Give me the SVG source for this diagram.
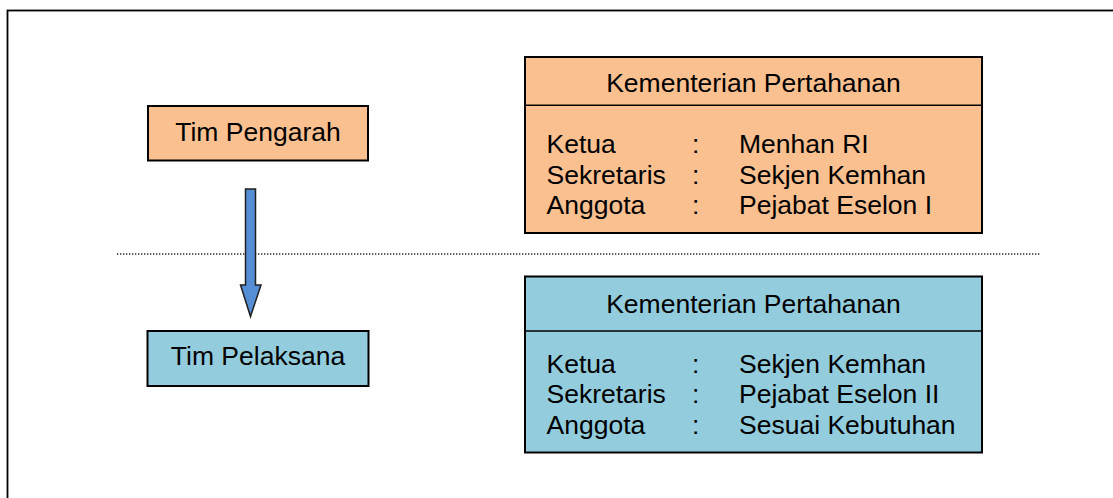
<svg xmlns="http://www.w3.org/2000/svg" width="1113" height="498" viewBox="0 0 1113 498">
<style>
text{font-family:"Liberation Sans",Arial,sans-serif;font-size:26.5px;fill:#000}
.orange{fill:#FAC090;stroke:#000;stroke-width:2}
.blue{fill:#93CDDD;stroke:#000;stroke-width:2}
.div{stroke:#000;stroke-width:1.5}
.mid{text-anchor:middle}
</style>
<rect x="7.5" y="10.5" width="1120" height="500" fill="none" stroke="#000" stroke-width="1.8"/>
<line x1="117" y1="254" x2="1040" y2="254" stroke="#222" stroke-width="1.3" stroke-dasharray="1.3 1.7"/>
<g id="tim-pengarah">
<rect class="orange" x="148" y="106" width="220" height="54.5"/>
<text class="mid" x="258" y="140.5">Tim Pengarah</text>
</g>
<g id="tim-pelaksana">
<rect class="blue" x="147.5" y="331" width="221" height="55"/>
<text class="mid" x="258" y="365">Tim Pelaksana</text>
</g>
<g id="kemhan-pengarah">
<rect class="orange" x="525" y="57" width="457" height="176"/>
<line class="div" x1="525" y1="105.3" x2="982" y2="105.3"/>
<text class="mid" x="753.5" y="91.5">Kementerian Pertahanan</text>
<text x="546.5" y="153.3">Ketua</text><text x="692" y="153.3">:</text><text x="739" y="153.3">Menhan RI</text>
<text x="546.5" y="183.5">Sekretaris</text><text x="692" y="183.5">:</text><text x="739" y="183.5">Sekjen Kemhan</text>
<text x="546.5" y="214">Anggota</text><text x="692" y="214">:</text><text x="739" y="214">Pejabat Eselon I</text>
</g>
<g id="kemhan-pelaksana">
<rect class="blue" x="525" y="276.5" width="457" height="176"/>
<line class="div" x1="525" y1="331" x2="982" y2="331"/>
<text class="mid" x="753.5" y="313">Kementerian Pertahanan</text>
<text x="546.5" y="372.7">Ketua</text><text x="692" y="372.7">:</text><text x="739" y="372.7">Sekjen Kemhan</text>
<text x="546.5" y="403.3">Sekretaris</text><text x="692" y="403.3">:</text><text x="739" y="403.3">Pejabat Eselon II</text>
<text x="546.5" y="434">Anggota</text><text x="692" y="434">:</text><text x="739" y="434">Sesuai Kebutuhan</text>
</g>
<g id="connectors">
<path d="M245.5,189 H255.5 V285 H261 L250.5,316.5 L240.5,285 H245.5 Z" fill="#558ED5" stroke="#1F1F1F" stroke-width="1.5" stroke-linejoin="miter"/>
</g>
</svg>
